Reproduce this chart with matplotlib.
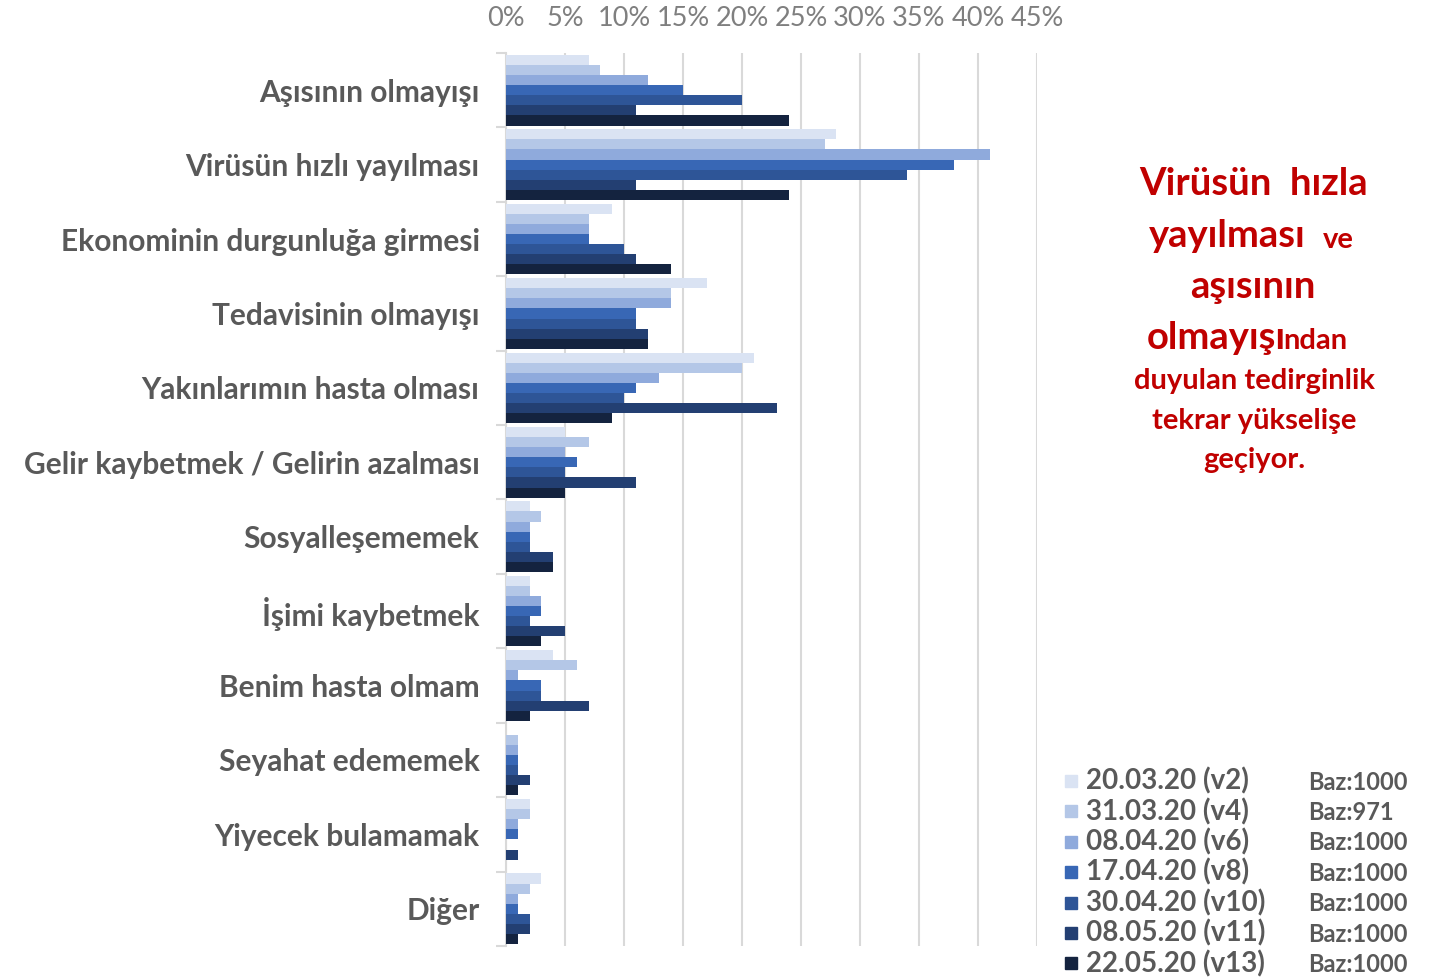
import matplotlib
matplotlib.use("Agg")
import matplotlib.pyplot as plt
import numpy as np
from matplotlib.patches import Rectangle

plt.rcParams['font.family'] = ['Lato', 'DejaVu Sans']

categories = ['Aşısının olmayışı', 'Virüsün hızlı yayılması', 'Ekonominin durgunluğa girmesi',
              'Tedavisinin olmayışı', 'Yakınlarımın hasta olması', 'Gelir kaybetmek / Gelirin azalması',
              'Sosyalleşememek', 'İşimi kaybetmek', 'Benim hasta olmam', 'Seyahat edememek',
              'Yiyecek bulamamak', 'Diğer']

waves = ['20.03.20 (v2)', '31.03.20 (v4)', '08.04.20 (v6)', '17.04.20 (v8)',
         '30.04.20 (v10)', '08.05.20 (v11)', '22.05.20 (v13)']
bases = ['Baz:1000', 'Baz:971', 'Baz:1000', 'Baz:1000', 'Baz:1000', 'Baz:1000', 'Baz:1000']

v2 = [7, 28, 9, 17, 21, 5, 2, 2, 4, 0, 2, 3]
v4 = [8, 27, 7, 14, 20, 7, 3, 2, 6, 1, 2, 2]
v6 = [12, 41, 7, 14, 13, 5, 2, 3, 1, 1, 1, 1]
v8 = [15, 38, 7, 11, 11, 6, 2, 3, 3, 1, 1, 1]
v10 = [20, 34, 10, 11, 10, 5, 2, 2, 3, 1, 0, 2]
v11 = [11, 11, 11, 12, 23, 11, 4, 5, 7, 2, 1, 2]
v13 = [24, 24, 14, 12, 9, 5, 4, 3, 2, 1, 0, 1]
series = [v2, v4, v6, v8, v10, v11, v13]

colors = ['#DAE3F3', '#B4C7E7', '#8FAADC', '#3867B5', '#2E5597', '#233F72', '#14233F']

fig = plt.figure(figsize=(14.44, 9.8), dpi=100)
ax = fig.add_axes([506 / 1444, 1 - 946 / 980, (1037 - 506) / 1444, (946 - 53) / 980])

n = len(series)
group = 0.95
h = group / n
y = np.arange(len(categories))
for i, (vals, c) in enumerate(zip(series, colors)):
    ax.barh(y - group / 2 + h * (i + 0.5), vals, height=h, color=c, zorder=3)

ax.set_xlim(0, 45)
ax.set_ylim(len(categories) - 0.5, -0.5)
ax.xaxis.tick_top()
ax.set_xticks(np.arange(0, 50, 5))
ax.set_xticklabels([f'{v}%' for v in range(0, 50, 5)])
ax.tick_params(axis='x', length=0, pad=16, labelsize=19.5, labelcolor='#7F7F7F')
ax.grid(axis='x', color='#D9D9D9', linewidth=1.5, zorder=0)

ax.set_yticks(y)
ax.set_yticklabels(categories, fontweight='bold')
ax.tick_params(axis='y', length=0, pad=19, labelsize=21.5, labelcolor='#595959')
ax.set_yticks(np.arange(-0.5, len(categories) + 0.5, 1), minor=True)
ax.tick_params(axis='y', which='minor', length=7, width=1.5, color='#D9D9D9')

for s in ['top', 'right', 'bottom']:
    ax.spines[s].set_visible(False)
ax.spines['left'].set_color('#D9D9D9')
ax.spines['left'].set_linewidth(1.5)

# red note
red = '#C00000'
def px(x, yy):
    return x / 1444, 1 - yy / 980
big, small = 27.5, 21
fig.text(*px(1254, 184), 'Virüsün  hızla', ha='center', va='center', fontsize=big, fontweight='bold', color=red)
fig.text(*px(1149, 236), 'yayılması', ha='left', va='center', fontsize=big, fontweight='bold', color=red)
fig.text(*px(1323, 240), 've', ha='left', va='center', fontsize=small, fontweight='bold', color=red)
fig.text(*px(1253, 287), 'aşısının', ha='center', va='center', fontsize=big, fontweight='bold', color=red)
fig.text(*px(1147, 338), 'olmayışı', ha='left', va='center', fontsize=big, fontweight='bold', color=red)
fig.text(*px(1283, 341), 'ndan', ha='left', va='center', fontsize=small, fontweight='bold', color=red)
fig.text(*px(1254, 381), 'duyulan tedirginlik', ha='center', va='center', fontsize=small, fontweight='bold', color=red)
fig.text(*px(1254, 421), 'tekrar yükselişe', ha='center', va='center', fontsize=small, fontweight='bold', color=red)
fig.text(*px(1254, 460), 'geçiyor.', ha='center', va='center', fontsize=small, fontweight='bold', color=red)

# legend
for i, (lab, base, c) in enumerate(zip(waves, bases, colors)):
    yy = 781 + i * 30.4
    x0, y0 = px(1065, yy + 6)
    fig.patches.append(Rectangle((x0, y0), 12 / 1444, 12 / 980, transform=fig.transFigure,
                                 color=c, figure=fig))
    fig.text(*px(1086, yy), lab, ha='left', va='center', fontsize=20, fontweight='bold', color='#595959')
    fig.text(*px(1308, yy + 1), base, ha='left', va='center', fontsize=17, fontweight='bold', color='#595959')

fig.savefig('out.png', dpi=100, facecolor='white')
